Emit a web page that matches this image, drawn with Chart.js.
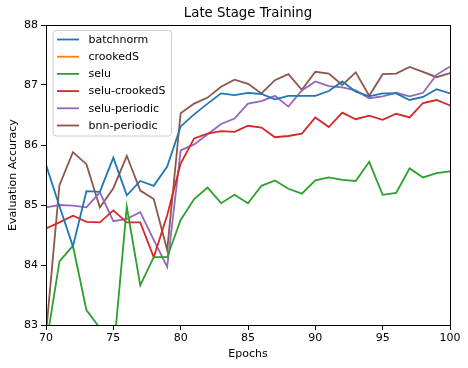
<!DOCTYPE html>
<html><head><meta charset="utf-8">
<script src="https://cdn.jsdelivr.net/npm/chart.js@4"></script>
<style>html,body{margin:0;padding:0;background:#fff}#wrap{width:468px;height:368px}</style>
</head><body><div id="wrap"><canvas id="c" width="468" height="368"></canvas></div>
<script>
const epochs = [70,71,72,73,74,75,76,77,78,79,80,81,82,83,84,85,86,87,88,89,90,91,92,93,94,95,96,97,98,99,100];
const batchnorm = [85.67,84.98,84.31,85.23,85.22,85.79,85.16,85.40,85.32,85.64,86.31,86.51,86.69,86.86,86.83,86.87,86.85,86.76,86.82,86.82,86.82,86.90,87.06,86.89,86.81,86.86,86.86,86.75,86.80,86.93,86.86];
const crookedS = [];
const selu = [82.65,84.06,84.32,83.25,82.95,82.5,84.97,83.66,84.13,84.13,84.75,85.10,85.29,85.03,85.17,85.03,85.32,85.41,85.27,85.19,85.41,85.46,85.42,85.40,85.72,85.17,85.20,85.61,85.46,85.53,85.56];
const seluCrookedS = [84.61,84.71,84.82,84.72,84.71,84.91,84.71,84.71,84.13,84.83,85.69,86.11,86.19,86.23,86.22,86.32,86.29,86.13,86.15,86.19,86.46,86.30,86.54,86.43,86.49,86.42,86.52,86.46,86.70,86.75,86.66];
const seluPeriodic = [84.96,85.00,84.99,84.96,85.21,84.73,84.77,84.88,84.42,83.97,85.91,86.01,86.18,86.35,86.44,86.69,86.73,86.82,86.64,86.91,87.06,86.98,86.96,86.91,86.78,86.81,86.87,86.81,86.87,87.17,87.31];
const bnnPeriodic = [82.85,85.33,85.88,85.68,84.96,85.28,85.82,85.24,85.10,84.25,86.53,86.69,86.79,86.97,87.09,87.02,86.86,87.08,87.18,86.92,87.22,87.19,87.00,87.21,86.82,87.18,87.19,87.30,87.22,87.13,87.20];
const xTicks = [70,75,80,85,90,95,100];
const yTicks = [83,84,85,86,87,88];

const seriesNames = ['batchnorm','crookedS','selu','selu-crookedS','selu-periodic','bnn-periodic'];
const seriesData = [batchnorm, crookedS, selu, seluCrookedS, seluPeriodic, bnnPeriodic];
const colors = ['#1f77b4','#ff7f0e','#2ca02c','#d62728','#9467bd','#8c564b'];
const FONT = "'DejaVu Sans', sans-serif";

const datasets = seriesNames.map((n,i)=>({
  label:n,
  data: seriesData[i].map((v,j)=>({x:epochs[j], y:v})),
  borderColor: colors[i], backgroundColor: colors[i],
  borderWidth: 1.8, pointRadius: 0, tension: 0, fill:false
}));

const deco = {
  id:'deco',
  afterDraw(chart){
    const ctx = chart.ctx, a = chart.chartArea;
    ctx.save();
    ctx.strokeStyle = '#000'; ctx.lineWidth = 1;
    ctx.strokeRect(Math.round(a.left)+0.5, Math.round(a.top)+0.5, Math.round(a.right-a.left), Math.round(a.bottom-a.top));
    ctx.fillStyle = '#000';
    ctx.font = '13.3px ' + FONT;
    ctx.textAlign='center'; ctx.textBaseline='middle';
    ctx.fillText('Late Stage Training', (a.left+a.right)/2, 14);
    ctx.font = '11px ' + FONT;
    ctx.fillText('Epochs', (a.left+a.right)/2, 354.5);
    ctx.save();
    ctx.translate(13.5, (a.top+a.bottom)/2);
    ctx.rotate(-Math.PI/2);
    ctx.fillText('Evaluation Accuracy', 0, 0);
    ctx.restore();
    // legend
    const lx=53, ly=30.5, lw=118.5, lh=105.5, r=3;
    ctx.beginPath();
    ctx.moveTo(lx+r,ly); ctx.lineTo(lx+lw-r,ly); ctx.quadraticCurveTo(lx+lw,ly,lx+lw,ly+r);
    ctx.lineTo(lx+lw,ly+lh-r); ctx.quadraticCurveTo(lx+lw,ly+lh,lx+lw-r,ly+lh);
    ctx.lineTo(lx+r,ly+lh); ctx.quadraticCurveTo(lx,ly+lh,lx,ly+lh-r);
    ctx.lineTo(lx,ly+r); ctx.quadraticCurveTo(lx,ly,lx+r,ly); ctx.closePath();
    ctx.fillStyle='rgba(255,255,255,0.8)'; ctx.fill();
    ctx.strokeStyle='#cccccc'; ctx.lineWidth=1; ctx.stroke();
    ctx.font = '11px ' + FONT; ctx.textAlign='left'; ctx.textBaseline='middle';
    chart.data.datasets.forEach((ds,i)=>{
      const y = 39.5 + i*17.2;
      ctx.strokeStyle = ds.borderColor; ctx.lineWidth = 1.8;
      ctx.beginPath(); ctx.moveTo(57,y); ctx.lineTo(79,y); ctx.stroke();
      ctx.fillStyle='#000'; ctx.fillText(ds.label, 88.5, y+0.5);
    });
    ctx.restore();
  }
};

new Chart(document.getElementById('c'), {
  type:'line',
  data:{datasets},
  options:{
    responsive:false, animation:false,
    layout:{padding:{top:25,right:18,left:0,bottom:0}},
    plugins:{legend:{display:false}, title:{display:false}, tooltip:{enabled:false}},
    scales:{
      x:{type:'linear', min:70, max:100,
        afterFit(s){s.height=43;},
        afterBuildTicks(s){s.ticks = xTicks.map(v=>({value:v}));},
        grid:{drawOnChartArea:false, drawTicks:true, tickLength:5, color:'#000'},
        border:{display:true, color:'#000'},
        ticks:{color:'#000', font:{family:FONT, size:11}, padding:2, maxRotation:0}
      },
      y:{type:'linear', min:83, max:88,
        afterFit(s){s.width=46;},
        afterBuildTicks(s){s.ticks = yTicks.map(v=>({value:v}));},
        grid:{drawOnChartArea:false, drawTicks:true, tickLength:5, color:'#000'},
        border:{display:true, color:'#000'},
        ticks:{color:'#000', font:{family:FONT, size:11}, padding:3}
      }
    }
  },
  plugins:[deco]
});
</script></body></html>
